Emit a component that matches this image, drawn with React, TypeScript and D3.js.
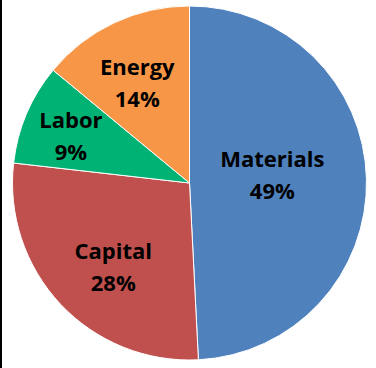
import React from "react";
import * as d3 from "d3";

const categories = ["Materials", "Capital", "Labor", "Energy"];
const values = [49.2, 27.6, 9.2, 14.0];
const percentLabels = ["49%", "28%", "9%", "14%"];
const colors = ["#4F81BD", "#C0504D", "#00B274", "#F79646"];

const W = 376;
const H = 368;
const cx = 189.5;
const cy = 183;
const R = 177;

// label placement rule (Excel "best fit"-like)
function labelPos(startAngle: number, endAngle: number) {
  const span = ((endAngle - startAngle) * 180) / Math.PI;
  const f = span > 150 ? 0.47 : span < 40 ? 0.72 : 0.64;
  const shiftDeg = span > 150 ? -4 : -0.045 * span;
  const a = (startAngle + endAngle) / 2 + (shiftDeg * Math.PI) / 180;
  const r = f * R;
  return [Math.sin(a) * r, -Math.cos(a) * r];
}

export default function App() {
  const pie = d3.pie<number>().sort(null).value((d) => d)(values);
  const arc = d3.arc<d3.PieArcDatum<number>>().innerRadius(0).outerRadius(R);

  return (
    <svg
      width={W}
      height={H}
      style={{ position: "absolute", left: 0, top: 0, background: "#fff" }}
    >
      <rect x={0} y={0} width={2} height={H} fill="#000" />
      <g transform={`translate(${cx},${cy})`}>
        {pie.map((p, i) => (
          <path
            key={categories[i]}
            d={arc(p) || ""}
            fill={colors[i]}
            stroke="#fff"
            strokeWidth={1}
          />
        ))}
        {pie.map((p, i) => {
          const [x, y] = labelPos(p.startAngle, p.endAngle);
          return (
            <text
              key={"t" + i}
              x={x}
              y={y}
              textAnchor="middle"
              fontFamily="'Open Sans', sans-serif"
              fontWeight={700}
              fontSize={22}
              fill="#000"
            >
              <tspan x={x} dy={-8}>
                {categories[i]}
              </tspan>
              <tspan x={x} dy={32}>
                {percentLabels[i]}
              </tspan>
            </text>
          );
        })}
      </g>
    </svg>
  );
}
